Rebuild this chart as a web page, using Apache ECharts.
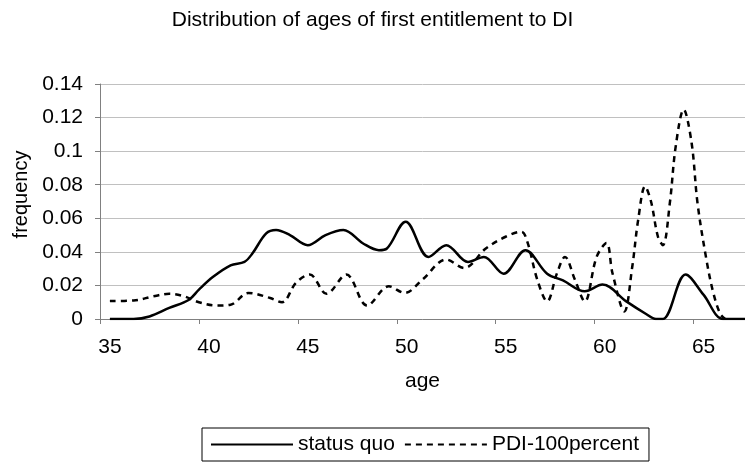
<!DOCTYPE html>
<html>
<head>
<meta charset="utf-8">
<script src="https://cdn.jsdelivr.net/npm/echarts@6/dist/echarts.min.js"></script>
<style>
  html, body { margin: 0; padding: 0; background: #fff; }
  #main { width: 745px; height: 466px; }
</style>
</head>
<body>
<div id="main"></div>
<script>
// values
const sqAges = [35.5, 36.7, 37.5, 38.5, 39.5, 40, 40.7, 41.6, 42.3, 42.7, 43.4, 43.9, 44.6, 45.5, 46.4, 47.3, 48.3, 49.1, 49.5, 50.45, 51.6, 52.5, 53.6, 54.4, 55.4, 56.5, 57.6, 58.4, 59.5, 60.4, 61.6, 62.6, 63.1, 63.45, 64.6, 65.5, 66.5, 67.6];
const sqFreq = [0, 0, 0.0015, 0.0066, 0.0115, 0.0175, 0.025, 0.032, 0.034, 0.039, 0.051, 0.053, 0.050, 0.044, 0.050, 0.053, 0.045, 0.041, 0.042, 0.058, 0.037, 0.044, 0.034, 0.037, 0.027, 0.041, 0.027, 0.023, 0.0165, 0.0205, 0.0105, 0.003, 0, 0, 0.0265, 0.0145, 0, 0];

const pdiAges = [35.5, 36.7, 37.7, 38.5, 39.2, 40, 40.9, 41.6, 42.5, 43.6, 44.2, 44.9, 45.6, 46.45, 47.45, 48.5, 49.6, 50.4, 51.3, 52.5, 53.4, 54.5, 55.5, 56.3, 56.6, 57.1, 57.6, 58.1, 58.5, 59.0, 59.5, 60.1, 60.6, 60.9, 61.5, 61.9, 62.2, 62.55, 62.85, 63.2, 63.45, 63.8, 64.1, 64.5, 64.9, 65.2, 65.65, 66.0, 66.35, 66.6];
const pdiFreq = [0.0107, 0.011, 0.0135, 0.015, 0.0137, 0.010, 0.008, 0.0085, 0.0155, 0.0125, 0.010, 0.0215, 0.0265, 0.015, 0.0265, 0.008, 0.0195, 0.0155, 0.0235, 0.0354, 0.0304, 0.042, 0.049, 0.052, 0.046, 0.0235, 0.0105, 0.0274, 0.037, 0.0235, 0.0105, 0.037, 0.0453, 0.0274, 0.0045, 0.031, 0.059, 0.079, 0.070, 0.049, 0.044, 0.069, 0.103, 0.1248, 0.105, 0.069, 0.0354, 0.0155, 0.003, 0];

const xTicks = [35, 40, 45, 50, 55, 60, 65];

const font = 'Liberation Sans, Arial, sans-serif';

function pairs(xs, ys) {
    return xs.map((x, i) => [x, ys[i]]);
}

const chart = echarts.init(document.getElementById('main'), null, {renderer: 'canvas'});

chart.setOption({
    animation: false,
    backgroundColor: '#fff',
    title: {
        text: 'Distribution of ages of first entitlement to DI',
        left: 'center',
        top: 5,
        textStyle: {fontFamily: font, fontSize: 21, fontWeight: 'normal', color: '#000'}
    },
    legend: {
        left: 202,
        top: 428,
        orient: 'horizontal',
        itemWidth: 82,
        itemHeight: 14,
        itemGap: 9,
        padding: [6, 10, 6, 8],
        borderColor: '#000',
        borderWidth: 1,
        // only the line sample, no marker on it
        itemStyle: {opacity: 0},
        textStyle: {fontFamily: font, fontSize: 21, color: '#000'},
        data: ['status quo', 'PDI-100percent']
    },
    grid: {left: 100, right: 0, top: 84, bottom: 147},
    xAxis: {
        type: 'value',
        min: 35,
        max: 67.6,
        name: 'age',
        nameLocation: 'middle',
        nameGap: 52,
        nameTextStyle: {fontFamily: font, fontSize: 21, color: '#000'},
        axisLine: {lineStyle: {color: '#808080', width: 1}},
        axisTick: {show: true, length: 5, lineStyle: {color: '#808080'}, customValues: xTicks},
        axisLabel: {
            customValues: xTicks,
            margin: 18,
            padding: [0, 0, 0, 20],
            fontFamily: font, fontSize: 21, color: '#000'
        },
        splitLine: {show: false}
    },
    yAxis: {
        type: 'value',
        min: 0,
        max: 0.14,
        interval: 0.02,
        name: 'frequency',
        nameLocation: 'middle',
        nameGap: 68,
        nameTextStyle: {fontFamily: font, fontSize: 20, color: '#000', padding: [0, 0, 0, 14]},
        axisLine: {show: true, lineStyle: {color: '#808080', width: 1}},
        axisTick: {show: true, length: 5, lineStyle: {color: '#808080'}},
        axisLabel: {margin: 17, fontFamily: font, fontSize: 21, color: '#000'},
        splitLine: {lineStyle: {color: '#c0c0c0', width: 1}}
    },
    series: [
        {
            name: 'status quo',
            type: 'line',
            smooth: 0.35,
            symbol: 'none',
            data: pairs(sqAges, sqFreq),
            lineStyle: {color: '#000', width: 2.5, type: 'solid'},
            itemStyle: {color: '#000'}
        },
        {
            name: 'PDI-100percent',
            type: 'line',
            smooth: 0.35,
            symbol: 'none',
            data: pairs(pdiAges, pdiFreq),
            lineStyle: {color: '#000', width: 2.5, type: [6, 5]},
            itemStyle: {color: '#000'}
        }
    ]
});
</script>
</body>
</html>
